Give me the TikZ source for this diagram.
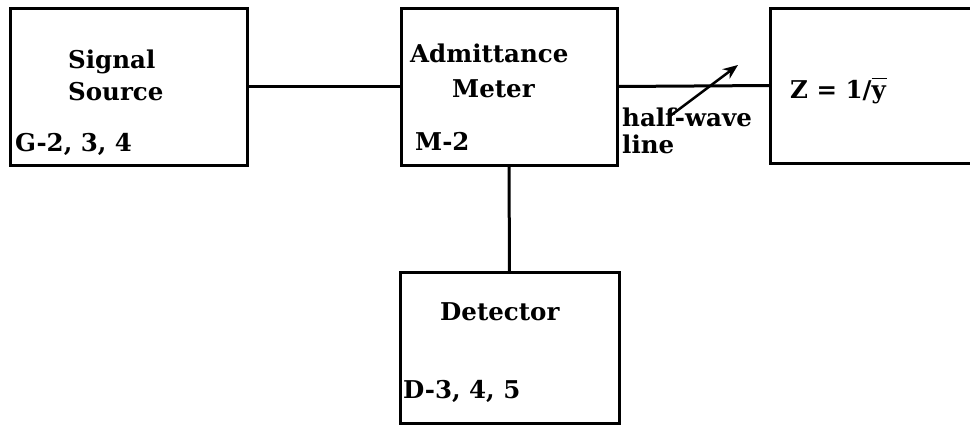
\documentclass[tikz,border=0pt]{standalone}
\usepackage{fontspec}
\setmainfont{DejaVu Serif}
\usetikzlibrary{arrows.meta}
\newcommand\ovbary{\leavevmode\rlap{\raisebox{0.76em}{\rule{0.62em}{1.8pt}}}y}
\begin{document}
\begin{tikzpicture}[x=1pt,y=-1pt,
  blk/.style={draw, line width=3pt, inner sep=0pt, outer sep=0pt, minimum width=#1},
  lbl/.style={anchor=base west, inner sep=0pt, font=\fontsize{24.5}{28}\selectfont\bfseries},
  wire/.style={line width=3pt}]
\useasboundingbox (0,0) rectangle (970,424);
\clip (0,0) rectangle (970,424);
\fill[white] (0,0) rectangle (970,424);
% boxes
\node[blk=237pt, minimum height=157pt] (sig) at (128.5,86.5) {};
\node[blk=216pt, minimum height=157pt] (adm) at (509,86.5) {};
\node[blk=230pt, minimum height=155pt] (zb)  at (885,85.5) {};
\node[blk=219pt, minimum height=151pt] (det) at (509.5,347.5) {};
% labels
\node[lbl] (t1) at (68,68) {Signal};
\node[lbl] (t2) at (68,100) {Source};
\node[lbl] (t3) at (15,151) {G-2, 3, 4};
\node[lbl] (t4) at (410,62) {Admittance};
\node[lbl] (t5) at (452,97) {Meter};
\node[lbl] (t6) at (415,150) {M-2};
\node[lbl] (t7) at (622,126) {half-wave};
\node[lbl] (t8) at (622,153) {line};
\node[lbl] (t9) at (790,98) {Z = 1/\ovbary};
\node[lbl] (t10) at (440,320) {Detector};
\node[lbl] (t11) at (403,398) {D-3, 4, 5};
% connectors
\draw[wire] (sig.east) -- (adm.west);
\draw[wire] (adm.east) -- (zb.west);
\draw[wire] (adm.south) -- (det.north);
\coordinate (atail) at (670,116);
\coordinate (ahead) at (738,65);
\draw[line width=2.5pt, -{Stealth[length=15pt,width=12pt]}] (atail) -- (ahead);
\end{tikzpicture}
\end{document}
